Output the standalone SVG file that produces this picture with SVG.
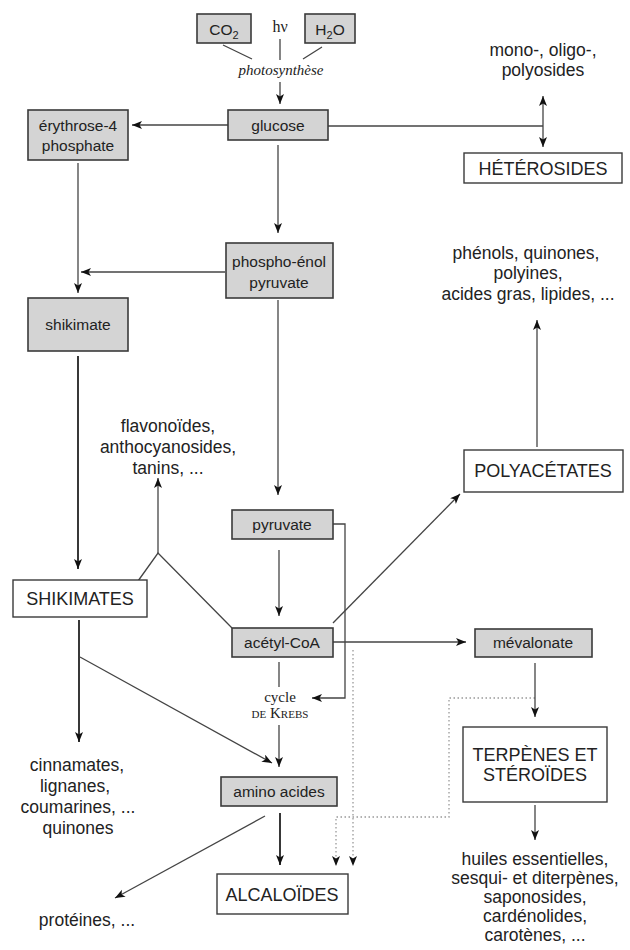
<svg xmlns="http://www.w3.org/2000/svg" width="630" height="950" viewBox="0 0 630 950">
<style>
.bg{fill:#fff}
.g rect{fill:#d4d4d4;stroke:#3a3a3a;stroke-width:1.6}
.w rect{fill:#fff;stroke:#3a3a3a;stroke-width:1.4}
text{font-family:"Liberation Sans",Arial,sans-serif;fill:#222;text-anchor:middle}
.n{font-size:15.5px}
.c{font-size:18px}
.p{font-size:17.5px}
.s{font-family:"Liberation Serif","Times New Roman",serif}
.l{fill:none;stroke:#444;stroke-width:1.3}
.k{fill:none;stroke:#222;stroke-width:1.8}
.d{fill:none;stroke:#999;stroke-width:1.3;stroke-dasharray:1.5 2.5}
</style>
<defs>
<marker id="a" markerUnits="userSpaceOnUse" markerWidth="11" markerHeight="9" refX="10" refY="4" orient="auto" viewBox="0 0 11 9">
<path d="M0,0 L10,4 L0,8 L2.5,4 z" fill="#111"/>
</marker>
</defs>
<rect class="bg" x="0" y="0" width="630" height="950"/>

<g id="connectors">
<path class="l" d="M223,45 L252,59 M280,39 L280,60 M322,47 L303,59"/>
<path class="l" d="M280,82 L280,104" marker-end="url(#a)"/>
<path class="l" d="M228,125 L132,125" marker-end="url(#a)"/>
<path class="l" d="M328,126 L543,126"/>
<path class="l" d="M543,126 L543,96" marker-end="url(#a)"/>
<path class="l" d="M543,126 L543,147" marker-end="url(#a)"/>
<path class="l" d="M278,145 L278,233" marker-end="url(#a)"/>
<path class="l" d="M78,163 L78,293" marker-end="url(#a)"/>
<path class="l" d="M225,272 L81,272" marker-end="url(#a)"/>
<path class="k" d="M78,356 L78,569" marker-end="url(#a)"/>
<path class="l" d="M158,553 L158,478" marker-end="url(#a)"/>
<path class="l" d="M138,581 L158,553 L232,628"/>
<path class="l" d="M278,300 L278,495" marker-end="url(#a)"/>
<path class="l" d="M279,550 L279,616" marker-end="url(#a)"/>
<path class="l" d="M333,524 L345,524 L345,698 L312,698" marker-end="url(#a)"/>
<path class="l" d="M333,623 L460,494" marker-end="url(#a)"/>
<path class="l" d="M333,642 L466,642" marker-end="url(#a)"/>
<path class="l" d="M279,662 L279,687"/>
<path class="l" d="M279,725 L279,767" marker-end="url(#a)"/>
<path class="k" d="M79,620 L79,742" marker-end="url(#a)"/>
<path class="l" d="M80,657 L272,763" marker-end="url(#a)"/>
<path class="k" d="M280,813 L280,865" marker-end="url(#a)"/>
<path class="l" d="M265,816 L115,898" marker-end="url(#a)"/>
<path class="d" d="M353,650 L353,866" marker-end="url(#a)"/>
<path class="d" d="M535,698 L449,698 L449,817 L336,817 L336,866" marker-end="url(#a)"/>
<path class="l" d="M535,663 L535,717" marker-end="url(#a)"/>
<path class="l" d="M535,805 L535,840" marker-end="url(#a)"/>
<path class="l" d="M537,447 L537,320" marker-end="url(#a)"/>
</g>

<g id="co2" class="g"><rect x="197" y="14" width="54" height="29"/><text class="n" x="224" y="35">CO<tspan font-size="11" dy="4">2</tspan></text></g>
<g id="hv"><text class="s" font-size="16" x="280" y="32">hν</text></g>
<g id="h2o" class="g"><rect x="305" y="14" width="50" height="29"/><text class="n" x="330" y="35">H<tspan font-size="11" dy="4">2</tspan><tspan dy="-4">O</tspan></text></g>
<g id="photosynthese"><text class="s" font-size="15" font-style="italic" x="281" y="75">photosynthèse</text></g>

<g id="glucose" class="g"><rect x="228" y="110" width="100" height="30"/><text class="n" x="278" y="131">glucose</text></g>
<g id="erythrose" class="g"><rect x="28" y="110" width="100" height="50"/><text class="n" x="78" y="131">érythrose-4</text><text class="n" x="78" y="151">phosphate</text></g>
<g id="mono"><text class="p" x="543" y="56">mono-, oligo-,</text><text class="p" x="543" y="76">polyosides</text></g>
<g id="heterosides" class="w"><rect x="464" y="153" width="158" height="30"/><text class="c" x="543" y="175">HÉTÉROSIDES</text></g>
<g id="pep" class="g"><rect x="226" y="243" width="107" height="55"/><text class="n" x="279" y="267">phospho-énol</text><text class="n" x="279" y="288">pyruvate</text></g>
<g id="phenols"><text class="p" x="526" y="259">phénols, quinones,</text><text class="p" x="528" y="279">polyines,</text><text class="p" x="528" y="300">acides gras, lipides, ...</text></g>
<g id="shikimate" class="g"><rect x="28" y="298" width="100" height="53"/><text class="n" x="78" y="330">shikimate</text></g>
<g id="flavonoides"><text class="p" x="168" y="432">flavonoïdes,</text><text class="p" x="168" y="453">anthocyanosides,</text><text class="p" x="168" y="474">tanins, ...</text></g>
<g id="polyacetates" class="w"><rect x="464" y="450" width="159" height="42"/><text class="c" x="543" y="477">POLYACÉTATES</text></g>
<g id="pyruvate" class="g"><rect x="232" y="510" width="101" height="29"/><text class="n" x="282" y="530">pyruvate</text></g>
<g id="shikimates" class="w"><rect x="13" y="580" width="134" height="37"/><text class="c" x="80" y="605">SHIKIMATES</text></g>
<g id="acetylcoa" class="g"><rect x="232" y="628" width="101" height="29"/><text class="n" x="282" y="648">acétyl-CoA</text></g>
<g id="mevalonate" class="g"><rect x="475" y="629" width="117" height="28"/><text class="n" x="533" y="648">mévalonate</text></g>
<g id="krebs"><text class="s" font-size="15" x="280" y="702">cycle</text><text class="s" font-size="15" font-variant="small-caps" x="280" y="718">de Krebs</text></g>
<g id="terpenes" class="w"><rect x="463" y="727" width="144" height="75"/><text class="c" x="535" y="761">TERPÈNES ET</text><text class="c" x="535" y="781">STÉROÏDES</text></g>
<g id="cinnamates"><text class="p" x="77" y="771">cinnamates,</text><text class="p" x="75" y="792">lignanes,</text><text class="p" x="78" y="813">coumarines, ...</text><text class="p" x="78" y="834">quinones</text></g>
<g id="aminoacides" class="g"><rect x="221" y="777" width="116" height="29"/><text class="n" x="279" y="797">amino acides</text></g>
<g id="alcaloides" class="w"><rect x="217" y="874" width="131" height="40"/><text class="c" x="282" y="901">ALCALOÏDES</text></g>
<g id="proteines"><text class="p" x="87" y="926">protéines, ...</text></g>
<g id="huiles"><text class="p" x="535" y="865">huiles essentielles,</text><text class="p" x="535" y="884">sesqui- et diterpènes,</text><text class="p" x="535" y="903">saponosides,</text><text class="p" x="535" y="922">cardénolides,</text><text class="p" x="535" y="941">carotènes, ...</text></g>
</svg>
